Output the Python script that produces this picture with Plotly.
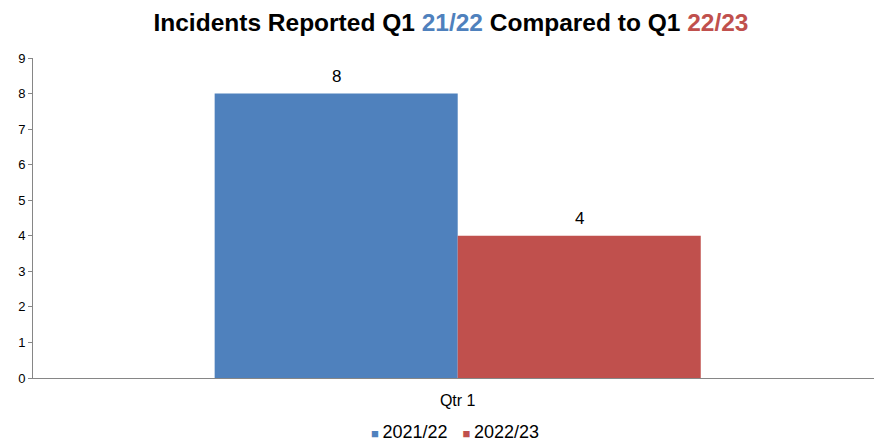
import plotly.graph_objects as go

categories = ["Qtr 1"]
series_names = ["2021/22", "2022/23"]
values_2122 = [8]
values_2223 = [4]
colors = ["#4F81BD", "#C0504D"]
y_ticks = list(range(0, 10))

FONT = "Liberation Sans, Arial, sans-serif"

fig = go.Figure()
for name, vals, col in zip(series_names, [values_2122, values_2223], colors):
    fig.add_trace(go.Bar(
        x=[0] * len(categories), y=vals, name=name,
        marker=dict(color=col, line=dict(width=0)),
        showlegend=False,
    ))

# value labels above each bar
offsets = [-0.1445, 0.1445]
for vals, dx in zip([values_2122, values_2223], offsets):
    for i, v in enumerate(vals):
        fig.add_annotation(
            x=i + dx, y=v, xref="x", yref="y", text=str(v), showarrow=False,
            yanchor="bottom", yshift=6,
            font=dict(family=FONT, size=17, color="#000000"),
        )

# legend drawn as a centred line of coloured squares and series names
legend_text = "&nbsp;&nbsp;&nbsp;".join(
    f"<span style='color:{c};font-size:13px'>■</span>&#8201;{n}" for n, c in zip(series_names, colors)
)
fig.add_annotation(
    x=0.502, y=-0.168, xref="paper", yref="paper", text=legend_text, showarrow=False,
    xanchor="center", yanchor="middle",
    font=dict(family=FONT, size=18, color="#000000"),
)

fig.update_layout(
    width=874, height=441,
    margin=dict(l=33, r=0, t=58, b=63),
    paper_bgcolor="white", plot_bgcolor="white",
    barmode="group", bargap=0.422, bargroupgap=0,
    title=dict(
        text=("<b>Incidents Reported Q1 <span style='color:#4F81BD'>21/22</span> "
              "Compared to Q1 <span style='color:#C0504D'>22/23</span></b>"),
        x=0.516, xanchor="center", y=0.95, yanchor="middle",
        font=dict(family=FONT, size=24.5, color="#000000"),
    ),
    font=dict(family=FONT, size=13, color="#000000"),
    showlegend=False,
)
fig.update_xaxes(
    range=[-0.505, 0.495], tickvals=[0], ticktext=categories,
    showline=True, linecolor="#868686", linewidth=1,
    ticks="", showgrid=False, zeroline=False, ticklabelstandoff=8,
    tickfont=dict(family=FONT, size=16),
)
fig.update_yaxes(
    range=[0, 9], tickvals=y_ticks, showline=True, linecolor="#868686", linewidth=1,
    ticks="outside", ticklen=4, tickcolor="#868686",
    showgrid=False, zeroline=False, tickfont=dict(family=FONT, size=13),
)

fig.write_html("out.html")
